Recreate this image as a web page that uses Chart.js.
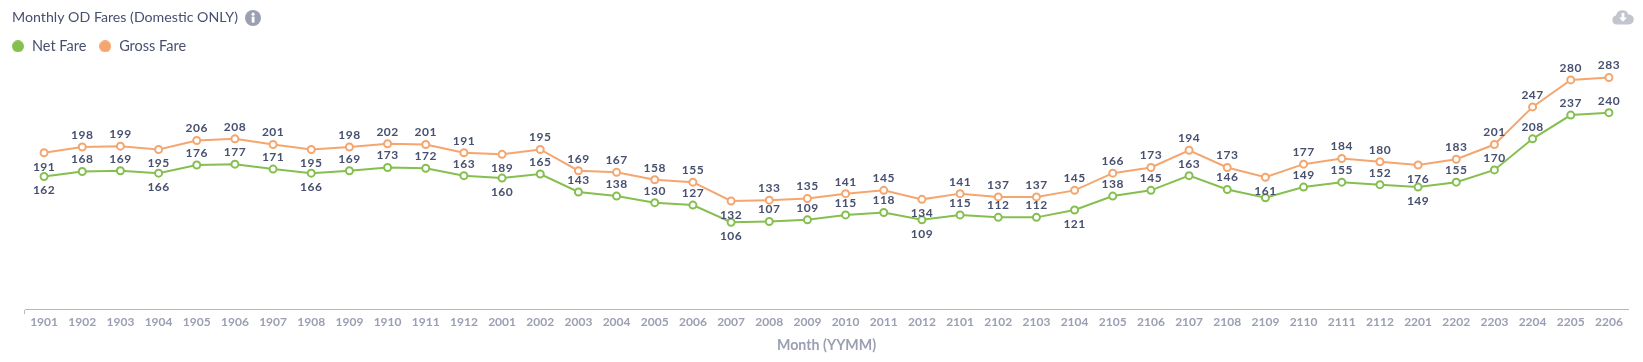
<!DOCTYPE html>
<html><head><meta charset="utf-8">
<script src="https://cdn.jsdelivr.net/npm/chart.js@4"></script>
<style>
html,body{margin:0;padding:0;background:#fff;overflow:hidden}
#wrap{position:relative;width:1643px;height:362px}
canvas{position:absolute;left:0;top:0}
svg{position:absolute}
</style></head><body>
<div id="wrap"><canvas id="c" width="1643" height="362"></canvas>
<svg style="left:245px;top:10px" width="16" height="16" viewBox="0 0 16 16"><circle cx="8" cy="8" r="8" fill="#9a9fb2"/><rect x="6.7" y="6.6" width="2.8" height="6" fill="#fff"/><circle cx="8.1" cy="4.2" r="1.6" fill="#fff"/></svg>
<svg style="left:1612px;top:9px" width="22" height="16" viewBox="0 0 22 16"><path d="M5 15.5a4.5 4.5 0 0 1-1-8.9A6.5 6.5 0 0 1 16.5 5.4 5 5 0 0 1 17 15.5Z" fill="#c2c4ce"/><path d="M9.6 4h2.8v4.5h2.6L11 12.8 7 8.5h2.6Z" fill="#fff"/></svg>
</div>
<script>
const categories = ["1901","1902","1903","1904","1905","1906","1907","1908","1909","1910","1911","1912","2001","2002","2003","2004","2005","2006","2007","2008","2009","2010","2011","2012","2101","2102","2103","2104","2105","2106","2107","2108","2109","2110","2111","2112","2201","2202","2203","2204","2205","2206"];
const netFare = [162,168,169,166,176,177,171,166,169,173,172,163,160,165,143,138,130,127,106,107,109,115,118,109,115,112,112,121,138,145,163,146,136,149,155,152,149,155,170,208,237,240];
const grossFare = [191,198,199,195,206,208,201,195,198,202,201,191,189,195,169,167,158,155,132,133,135,141,145,134,141,137,137,145,166,173,194,173,161,177,184,180,176,183,201,247,280,283];
const netLabelsBelow = [0,3,7,12,18,23,27,36];
const grossLabelsBelow = [0,3,7,12,18,23,32,36];
const netLabelsHidden = [32];
const GREEN="#85bf4f", ORANGE="#f5a66f", INK="#47506f", MUTED="#9a9fb2";

function dot(color){
  const c=document.createElement("canvas");c.width=12;c.height=12;
  const x=c.getContext("2d");x.fillStyle=color;x.beginPath();x.arc(6,6,6,0,Math.PI*2);x.fill();
  return c;
}
const valueLabels = {
  id:"valueLabels",
  afterLayout(chart){ chart.legend.left-=12.75; },
  afterDatasetsDraw(chart){
    const ctx=chart.ctx;
    ctx.save();
    ctx.font='bold 12px Lato';
    ctx.letterSpacing='0.5px';
    ctx.fillStyle=INK;
    ctx.textAlign='center';
    ctx.textBaseline='middle';
    chart.data.datasets.forEach((ds,di)=>{
      chart.getDatasetMeta(di).data.forEach((pt,i)=>{
        if(ds.labelsHidden.includes(i))return;
        const below=ds.labelsBelow.includes(i);
        ctx.fillText(String(ds.data[i]),pt.x,pt.y+(below?14:-12));
      });
    });
    ctx.restore();
  }
};
new Chart(document.getElementById("c"),{
  type:"line",
  data:{labels:categories,datasets:[
    {label:"Net Fare",data:netFare,labelsBelow:netLabelsBelow,labelsHidden:netLabelsHidden,borderColor:GREEN,backgroundColor:GREEN,pointBackgroundColor:"#fff",pointBorderColor:GREEN,pointBorderWidth:2,pointRadius:3.5,borderWidth:2,tension:0,fill:false},
    {label:"Gross Fare",data:grossFare,labelsBelow:grossLabelsBelow,labelsHidden:[],borderColor:ORANGE,backgroundColor:ORANGE,pointBackgroundColor:"#fff",pointBorderColor:ORANGE,pointBorderWidth:2,pointRadius:3.5,borderWidth:2,tension:0,fill:false}
  ]},
  options:{
    responsive:false,animation:false,
    layout:{padding:{left:12,right:15,top:0,bottom:0}},
    plugins:{
      tooltip:{enabled:false},
      title:{display:true,text:"Monthly OD Fares (Domestic ONLY)",align:"start",color:INK,font:{family:"Lato",size:14.2,weight:"normal"},padding:{top:9,bottom:1}},
      legend:{display:true,position:"top",align:"start",labels:{usePointStyle:true,boxWidth:12,boxHeight:12,pointStyleWidth:13.5,padding:12,color:INK,font:{family:"Lato",size:14.5},
        generateLabels(chart){return chart.data.datasets.map((d,i)=>({text:d.label,fillStyle:d.borderColor,strokeStyle:d.borderColor,lineWidth:0,pointStyle:dot(d.borderColor),datasetIndex:i,fontColor:INK}));}}}
    },
    scales:{
      x:{offset:true,
        afterFit(s){s.height=53;},
        border:{display:true,color:"#b5b7c4",width:1},
        grid:{offset:true,drawOnChartArea:false,drawTicks:true,tickLength:5,
          tickColor:(c)=>(c.index===0||c.index===categories.length)?"#b5b7c4":"rgba(0,0,0,0)"},
        ticks:{color:MUTED,font:{family:"Lato",size:12,weight:"bold"},maxRotation:0,autoSkip:false,padding:1},
        title:{display:true,text:"Month (YYMM)",color:MUTED,font:{family:"Lato",size:14.2,weight:"bold"},padding:{top:6,bottom:8}}
      },
      y:{min:0,max:300,
        afterFit(s){s.width=13;},
        border:{display:false},grid:{display:false},ticks:{display:false}
      }
    }
  },
  plugins:[valueLabels]
});
</script>
</body></html>
